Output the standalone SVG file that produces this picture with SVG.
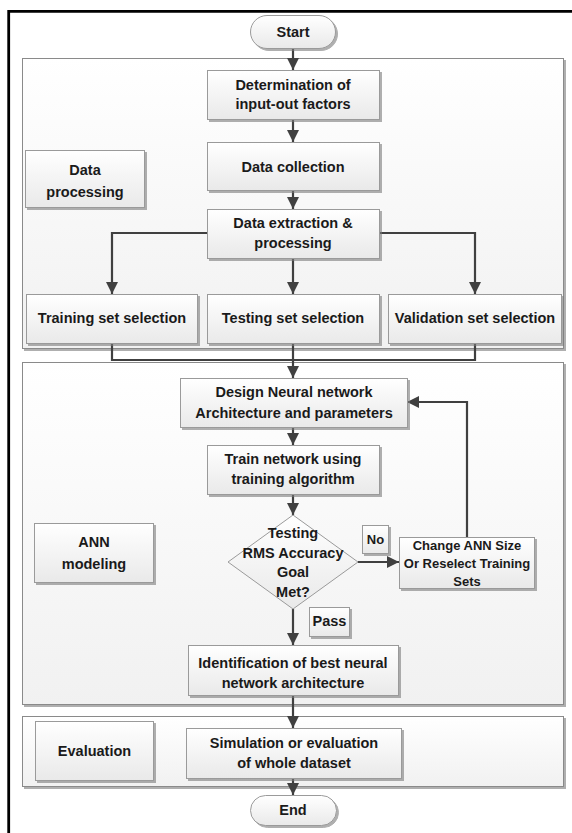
<svg xmlns="http://www.w3.org/2000/svg" width="572" height="833" viewBox="0 0 572 833">
<defs>
<linearGradient id="gBox" x1="0" y1="0" x2="0" y2="1">
<stop offset="0" stop-color="#ffffff"/>
<stop offset="1" stop-color="#e9e9e9"/>
</linearGradient>
<linearGradient id="gSec" x1="0" y1="0" x2="0" y2="1">
<stop offset="0" stop-color="#ffffff"/>
<stop offset="1" stop-color="#f1f1f1"/>
</linearGradient>
<filter id="sh" x="-10%" y="-10%" width="130%" height="130%">
<feDropShadow dx="2" dy="2" stdDeviation="0.7" flood-color="#7a7a7a" flood-opacity="0.6"/>
</filter>
<marker id="arr" markerWidth="12" markerHeight="12" refX="10" refY="5" orient="auto" markerUnits="userSpaceOnUse" viewBox="0 0 10 10">
<path d="M0,0 L10,5 L0,10 z" fill="#404040"/>
</marker>
</defs>
<style>
.sec{fill:url(#gSec);stroke:#8a8a8a;stroke-width:1;filter:url(#sh)}
.box{fill:url(#gBox);stroke:#9a9a9a;stroke-width:1;filter:url(#sh)}
.term{fill:url(#gBox);stroke:#9a9a9a;stroke-width:1;filter:url(#sh)}
.t{font-family:"Liberation Sans",Arial,sans-serif;font-weight:bold;font-size:14.5px;fill:#1a1a1a;text-anchor:middle}
.s{font-size:13px}
.c{fill:none;stroke:#404040;stroke-width:2.2}
.a{marker-end:url(#arr)}
</style>
<rect width="572" height="833" fill="#ffffff"/>
<path d="M8.7,833 V11.3 H572" fill="none" stroke="#000" stroke-width="2.8"/>

<g id="sections">
<rect class="sec" x="22.5" y="58.5" width="541" height="290"/>
<rect class="sec" x="22.5" y="362.5" width="541" height="342"/>
<rect class="sec" x="22.5" y="716.5" width="541" height="70"/>
</g>

<g id="connectors">
<line class="c a" x1="293" y1="48" x2="293" y2="70"/>
<line class="c a" x1="293" y1="120" x2="293" y2="142"/>
<line class="c a" x1="293" y1="190" x2="293" y2="209"/>
<polyline class="c a" points="207,233 112,233 112,294"/>
<line class="c a" x1="293" y1="258" x2="293" y2="294"/>
<polyline class="c a" points="379,233 475,233 475,294"/>
<polyline class="c" points="112,343 112,360 475,360 475,343"/>
<line class="c a" x1="293" y1="343" x2="293" y2="378"/>
<line class="c a" x1="293" y1="427" x2="293" y2="445"/>
<line class="c a" x1="293" y1="494" x2="293" y2="515"/>
<line class="c a" x1="358" y1="562" x2="399" y2="562"/>
<polyline class="c a" points="467,537 467,402 407,402"/>
<line class="c a" x1="293" y1="609" x2="293" y2="645"/>
<line class="c a" x1="293" y1="695" x2="293" y2="728"/>
<line class="c a" x1="293" y1="778" x2="293" y2="795"/>
</g>

<g id="start">
<rect class="term" x="250.5" y="15.5" width="85" height="33" rx="16.5"/>
<text class="t" x="293" y="37">Start</text>
</g>
<g id="determination">
<rect class="box" x="207.5" y="70.5" width="172" height="49"/>
<text class="t" x="293" y="90">Determination of</text>
<text class="t" x="293" y="109">input-out factors</text>
</g>
<g id="data-processing-label">
<rect class="box" x="25.5" y="150.5" width="119" height="57"/>
<text class="t" x="85" y="175">Data</text>
<text class="t" x="85" y="197">processing</text>
</g>
<g id="data-collection">
<rect class="box" x="207.5" y="142.5" width="172" height="48"/>
<text class="t" x="293" y="172">Data collection</text>
</g>
<g id="data-extraction">
<rect class="box" x="207.5" y="209.5" width="172" height="49"/>
<text class="t" x="293" y="228">Data extraction &amp;</text>
<text class="t" x="293" y="248">processing</text>
</g>
<g id="training-set">
<rect class="box" x="26.5" y="294.5" width="171" height="49"/>
<text class="t" x="112" y="323">Training set selection</text>
</g>
<g id="testing-set">
<rect class="box" x="207.5" y="294.5" width="172" height="49"/>
<text class="t" x="293" y="323">Testing set selection</text>
</g>
<g id="validation-set">
<rect class="box" x="388.5" y="294.5" width="173" height="49"/>
<text class="t" x="475" y="323">Validation set selection</text>
</g>
<g id="design">
<rect class="box" x="180.5" y="378.5" width="227" height="49"/>
<text class="t" x="294" y="397">Design Neural network</text>
<text class="t" x="294" y="418">Architecture and parameters</text>
</g>
<g id="train">
<rect class="box" x="207.5" y="445.5" width="172" height="49"/>
<text class="t" x="293" y="464">Train network using</text>
<text class="t" x="293" y="484">training algorithm</text>
</g>
<g id="ann-modeling-label">
<rect class="box" x="34.5" y="523.5" width="119" height="59"/>
<text class="t" x="94" y="547">ANN</text>
<text class="t" x="94" y="569">modeling</text>
</g>
<g id="decision">
<polygon points="293,515 358,562 293,609 228,562" fill="url(#gBox)" stroke="#9a9a9a" stroke-width="1"/>
<text class="t" x="293" y="538">Testing</text>
<text class="t" x="293" y="558">RMS Accuracy</text>
<text class="t" x="293" y="577">Goal</text>
<text class="t" x="293" y="597">Met?</text>
</g>
<g id="no-label">
<rect class="box" x="362.5" y="525.5" width="26" height="28"/>
<text class="t s" x="375.5" y="544">No</text>
</g>
<g id="change">
<rect class="box" x="399.5" y="537.5" width="135" height="51"/>
<text class="t s" x="467" y="550">Change ANN Size</text>
<text class="t s" x="467" y="568">Or Reselect Training</text>
<text class="t s" x="467" y="586">Sets</text>
</g>
<g id="pass-label">
<rect class="box" x="309.5" y="607.5" width="40" height="29"/>
<text class="t" x="329.5" y="626">Pass</text>
</g>
<g id="identification">
<rect class="box" x="188.5" y="645.5" width="210" height="50"/>
<text class="t" x="293" y="668">Identification of best neural</text>
<text class="t" x="293" y="688">network architecture</text>
</g>
<g id="evaluation-label">
<rect class="box" x="35.5" y="721.5" width="118" height="59"/>
<text class="t" x="94.5" y="756">Evaluation</text>
</g>
<g id="simulation">
<rect class="box" x="186.5" y="728.5" width="215" height="50"/>
<text class="t" x="294" y="748">Simulation or evaluation</text>
<text class="t" x="294" y="768">of whole dataset</text>
</g>
<g id="end">
<rect class="term" x="250.5" y="795.5" width="86" height="30" rx="15"/>
<text class="t" x="293" y="815">End</text>
</g>
</svg>
